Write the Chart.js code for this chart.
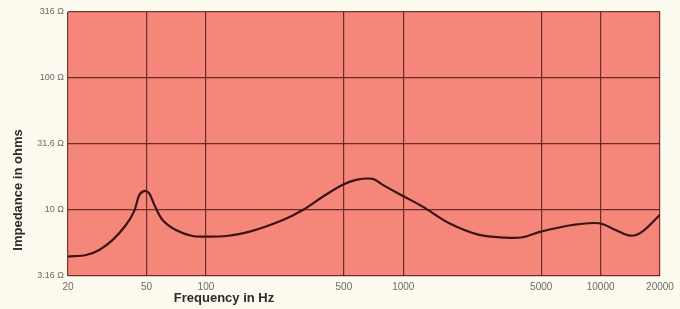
<!DOCTYPE html>
<html>
<head>
<meta charset="utf-8">
<script src="https://cdn.jsdelivr.net/npm/chart.js@4.4.1/dist/chart.umd.min.js"></script>
<style>
html, body { margin: 0; padding: 0; background: #fcf9ef; }
#wrap { width: 680px; height: 309px; position: relative; }
</style>
</head>
<body>
<div id="wrap"><canvas id="impedanceChart"></canvas></div>
<script>
// Valores (frequência em Hz, impedância em ohms)
const frequencies = [20, 24.7, 28.8, 33.7, 39.3, 43.3, 45.9, 48.6, 51.5, 54.7, 60.3, 70.4, 85.4, 99.8, 127, 166.6, 245.5, 309.7, 391, 494, 577, 700, 787, 975, 1254, 1710, 2428, 3312, 4020, 4980, 7194, 9820, 11920, 14200, 16260, 20000];
const impedance = [4.44, 4.56, 4.98, 5.93, 7.69, 9.8, 12.9, 13.9, 13.4, 11.0, 8.40, 7.05, 6.35, 6.28, 6.35, 6.85, 8.40, 10.0, 12.6, 15.5, 16.9, 17.2, 15.5, 13.0, 10.6, 7.93, 6.47, 6.17, 6.21, 6.85, 7.69, 7.93, 7.05, 6.38, 6.85, 9.2];
const freqTicks = [20, 50, 100, 500, 1000, 5000, 10000, 20000];
const ohmTicks = [3.16, 10, 31.6, 100, 316];
const ohmLabels = ['3.16 Ω', '10 Ω', '31.6 Ω', '100 Ω', '316 Ω'];

const plotBackground = {
    id: 'plotBackground',
    beforeDraw(chart) {
        const { ctx, chartArea: a } = chart;
        ctx.save();
        ctx.fillStyle = '#f5877a';
        ctx.fillRect(a.left, a.top, a.right - a.left, a.bottom - a.top);
        ctx.restore();
    },
    afterDraw(chart) {
        const ctx = chart.ctx;
        ctx.save();
        ctx.fillStyle = '#2e2a2a';
        ctx.font = 'bold 13px "Liberation Sans", Arial, sans-serif';
        ctx.textAlign = 'center';
        ctx.textBaseline = 'middle';
        ctx.fillText('Frequency in Hz', 224, 298);
        ctx.translate(18, 190);
        ctx.rotate(-Math.PI / 2);
        ctx.fillText('Impedance in ohms', 0, 0);
        ctx.restore();
    }
};

const ctx = document.getElementById('impedanceChart').getContext('2d');
const impedanceChart = new Chart(ctx, {
    type: 'line',
    data: {
        datasets: [{
            label: 'Impedância',
            data: frequencies.map((f, i) => ({ x: f, y: impedance[i] })),
            borderColor: '#3a1414',
            borderWidth: 2.2,
            tension: 0.35,
            pointRadius: 0,
            fill: false,
        }]
    },
    options: {
        responsive: true,
        maintainAspectRatio: false,
        animation: false,
        layout: {
            padding: { top: 12, right: 20, left: 0, bottom: 0 }
        },
        plugins: {
            legend: { display: false },
            tooltip: { enabled: false }
        },
        scales: {
            x: {
                type: 'logarithmic',
                min: 20,
                max: 20000,
                afterBuildTicks: (axis) => { axis.ticks = freqTicks.map(v => ({ value: v })); },
                afterFit: (axis) => { axis.height = 33; },
                grid: {
                    color: 'rgba(90, 25, 25, 0.85)',
                    lineWidth: 1.2,
                    drawTicks: false,
                },
                border: { display: false },
                ticks: {
                    autoSkip: false,
                    maxRotation: 0,
                    padding: 5,
                    color: '#6f6a66',
                    font: { size: 10, family: '"Liberation Sans", Arial, sans-serif' },
                    callback: (value) => String(value)
                }
            },
            y: {
                type: 'logarithmic',
                min: 3.16,
                max: 316,
                afterBuildTicks: (axis) => { axis.ticks = ohmTicks.map(v => ({ value: v })); },
                afterFit: (axis) => { axis.width = 68; },
                grid: {
                    color: 'rgba(90, 25, 25, 0.85)',
                    lineWidth: 1.2,
                    drawTicks: false,
                },
                border: { display: false },
                ticks: {
                    autoSkip: false,
                    padding: 4,
                    color: '#6f6a66',
                    font: { size: 9, family: '"Liberation Sans", Arial, sans-serif' },
                    callback: (value) => ohmLabels[ohmTicks.indexOf(value)]
                }
            }
        }
    },
    plugins: [plotBackground]
});
</script>
</body>
</html>
